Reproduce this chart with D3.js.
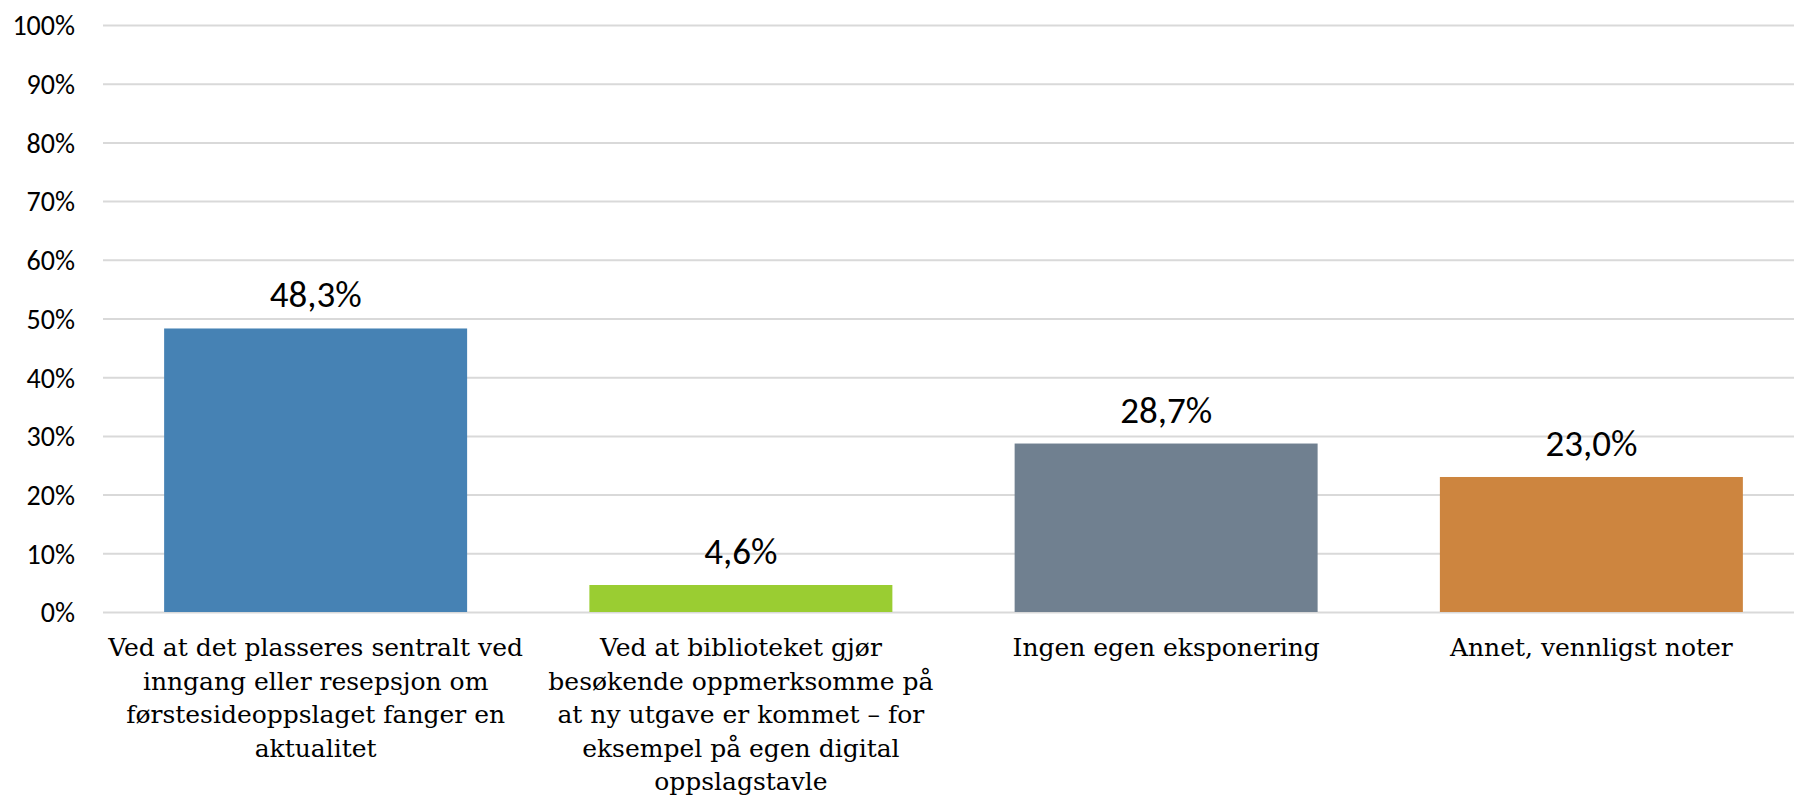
<!DOCTYPE html>
<html>
<head>
<meta charset="utf-8">
<script src="https://cdn.jsdelivr.net/npm/d3@7"></script>
<style>
  body { margin: 0; background: #fff; }
  svg { display: block; }
  .tick text { font-family: Carlito, Lato, sans-serif; font-size: 28px; fill: #000; }
  .val { font-family: Carlito, Lato, sans-serif; font-size: 37px; fill: #000; }
  .cat { font-family: "DejaVu Serif", serif; font-size: 25px; fill: #000; }
</style>
</head>
<body>
<div id="chart"></div>
<script>
// data
var categories = [
  "Ved at det plasseres sentralt ved inngang eller resepsjon om førstesideoppslaget fanger en aktualitet",
  "Ved at biblioteket gjør besøkende oppmerksomme på at ny utgave er kommet – for eksempel på egen digital oppslagstavle",
  "Ingen egen eksponering",
  "Annet, vennligst noter"
];
// line breaks as in the picture
var categoryLines = [
  ["Ved at det plasseres sentralt ved", "inngang eller resepsjon om", "førstesideoppslaget fanger en", "aktualitet"],
  ["Ved at biblioteket gjør", "besøkende oppmerksomme på", "at ny utgave er kommet – for", "eksempel på egen digital", "oppslagstavle"],
  ["Ingen egen eksponering"],
  ["Annet, vennligst noter"]
];
var values = [48.3, 4.6, 28.7, 23.0];
var colors = ["#4682B4", "#9ACD32", "#708090", "#CD853F"];
var yTicks = [0, 10, 20, 30, 40, 50, 60, 70, 80, 90, 100];

var width = 1794, height = 795;
var plotLeft = 103, plotRight = 1804, plotTop = 25, plotBottom = 612;

var svg = d3.select("#chart").append("svg")
    .attr("width", width)
    .attr("height", height);

var x = d3.scaleBand()
    .domain(categories)
    .range([plotLeft, plotRight])
    .paddingInner(0.2875)
    .paddingOuter(0.14375);

var y = d3.scaleLinear()
    .domain([0, 100])
    .range([plotBottom, plotTop]);

// gridlines + y labels
var yAxis = d3.axisLeft(y)
    .tickValues(yTicks)
    .tickSize(-(plotRight - plotLeft))
    .tickPadding(28)
    .tickFormat(function (d) { return d + "%"; });

var ga = svg.append("g")
    .attr("transform", "translate(" + plotLeft + ",0)")
    .call(yAxis);
ga.select(".domain").remove();
ga.selectAll(".tick line")
    .attr("stroke", "#d9d9d9")
    .attr("stroke-width", 2);
ga.selectAll(".tick text").attr("dy", "0.35em");

// bars
svg.selectAll(".bar")
    .data(values)
    .enter()
    .append("rect")
    .attr("class", "bar")
    .attr("x", function (d, i) { return x(categories[i]); })
    .attr("y", function (d) { return y(d); })
    .attr("width", x.bandwidth())
    .attr("height", function (d) { return y(0) - y(d); })
    .style("fill", function (d, i) { return colors[i]; });

// value labels
svg.selectAll(".val")
    .data(values)
    .enter()
    .append("text")
    .attr("class", "val")
    .attr("x", function (d, i) { return x(categories[i]) + x.bandwidth() / 2; })
    .attr("y", function (d) { return y(d) - 21; })
    .attr("text-anchor", "middle")
    .text(function (d) { return d.toFixed(1).replace(".", ",") + "%"; });

// category labels
var cat = svg.selectAll(".cat")
    .data(categoryLines)
    .enter()
    .append("text")
    .attr("class", "cat")
    .attr("text-anchor", "middle")
    .attr("x", function (d, i) { return x(categories[i]) + x.bandwidth() / 2; })
    .attr("y", 656);

cat.selectAll("tspan")
    .data(function (d) { return d; })
    .enter()
    .append("tspan")
    .attr("x", function () { return d3.select(this.parentNode).attr("x"); })
    .attr("dy", function (d, i) { return i === 0 ? 0 : 33.6; })
    .text(function (d) { return d; });
</script>
</body>
</html>
